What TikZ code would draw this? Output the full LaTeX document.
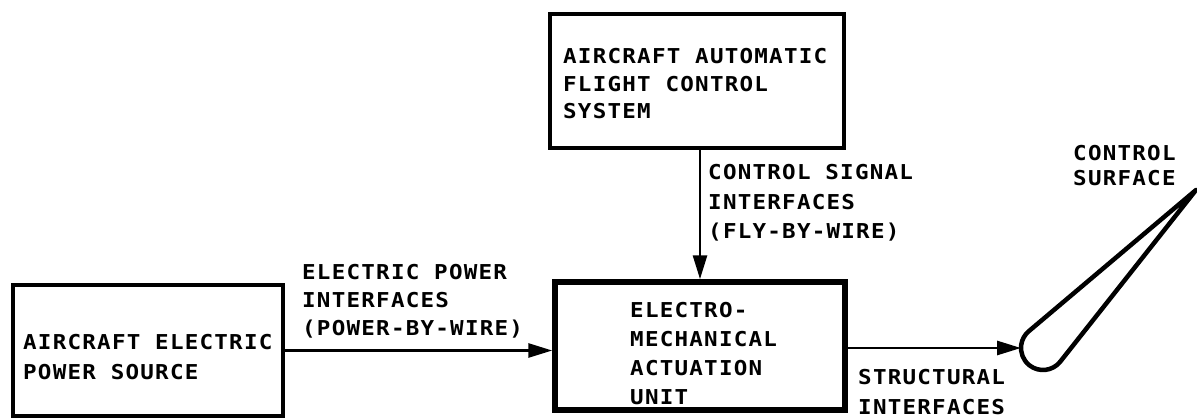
\documentclass[tikz,border=0pt]{standalone}
\usepackage{fontspec}
\usetikzlibrary{arrows.meta,calc}
\newfontfamily\plotfont[FakeStretch=1.1,LetterSpace=6]{DejaVu Sans Mono}
\begin{document}
\begin{tikzpicture}[x=1pt,y=-1pt,
  lbl/.style={anchor=north west,inner sep=0pt,align=left,
    font=\plotfont\bfseries\fontsize{20.5}{#1}\selectfont},
  conn/.style={line width=2.8pt,-{Triangle[length=24pt,width=14pt]}},
]
\fill[white] (0,0) rectangle (1197,420);
\useasboundingbox (0,0) rectangle (1197,420);

% boxes
\node (afcs) [draw,line width=4pt,minimum width=294pt,minimum height=134pt,inner sep=0pt] at (697,81) {};
\node (ema)  [draw,line width=5.5pt,minimum width=290pt,minimum height=128pt,inner sep=0pt] at (700,346) {};
\node (pwr)  [draw,line width=3.5pt,minimum width=270pt,minimum height=131pt,inner sep=0pt] at (148,350.5) {};

% box texts
\node (afcsT) [lbl=27.5] at (563,48.5) {AIRCRAFT AUTOMATIC\\FLIGHT CONTROL\\SYSTEM};
\node (emaT)  [lbl=29] at (630,302.5) {ELECTRO-\\MECHANICAL\\ACTUATION\\UNIT};
\node (pwrT)  [lbl=30] at (23,334.5) {AIRCRAFT ELECTRIC\\POWER SOURCE};

% connector labels
\node (csL) [lbl=29.5] at (708,164.5) {CONTROL SIGNAL\\INTERFACES\\(FLY-BY-WIRE)};
\node (epL) [lbl=28] at (302,264.5) {ELECTRIC POWER\\INTERFACES\\(POWER-BY-WIRE)};
\node (stL) [lbl=30] at (858,369.5) {STRUCTURAL\\INTERFACES};
\node (csfL) [lbl=25] at (1073,145.5) {CONTROL\\SURFACE};

% control surface (teardrop)
\coordinate (sc) at (1043,348);
\coordinate (tip) at (1196,190);
\coordinate (lead) at (1021,348);
\draw[line width=4.5pt,line join=round]
  (tip) -- ($(sc)+(38.4:22)$) arc[start angle=38.4,end angle=229.8,radius=22] -- cycle;

% connectors
\draw[conn] (ema.north |- afcs.south) -- (ema.north);
\draw[conn] (pwr.east) -- (pwr.east -| ema.west);
\draw[conn] (lead -| ema.east) -- (lead);
\end{tikzpicture}
\end{document}
